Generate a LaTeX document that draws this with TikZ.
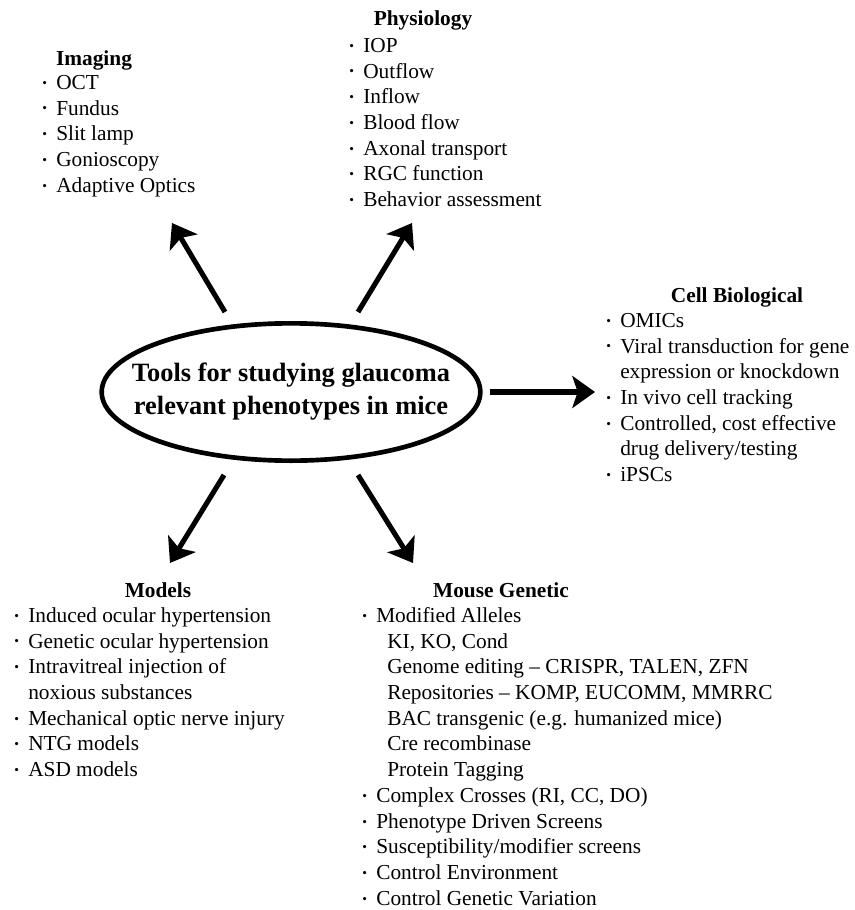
\documentclass[tikz,border=0pt]{standalone}
\usepackage{fontspec}
\setmainfont{Liberation Serif}
\usetikzlibrary{shapes.geometric}
\usetikzlibrary{arrows.meta}

\newcommand{\bul}{\strut\makebox[10.5pt][l]{\raisebox{1.6pt}{\fontsize{10pt}{10pt}\selectfont •}}}
\newcommand{\ind}{\strut\hspace*{10.5pt}}
\newcommand{\subind}{\strut\hspace*{18.75pt}}

\begin{document}
\begin{tikzpicture}[x=0.75pt,y=-0.75pt,line cap=round,line join=round,
  listtxt/.style={anchor=north west,inner sep=0pt,align=left,font=\fontsize{16pt}{19.3pt}\selectfont},
  head/.style={anchor=base,inner sep=0pt,font=\fontsize{16pt}{19.3pt}\selectfont\bfseries},
  arr/.style={line width=3.8pt,line cap=butt,-{Stealth[length=17pt,width=24pt,inset=4pt]}}]
\useasboundingbox (0,0) rectangle (854,910);
% central question
\node[ellipse,draw,line width=3.5pt,minimum width=284pt,minimum height=103pt,inner ysep=0pt,inner xsep=-20pt,align=center,
  font=\fontsize{19.8pt}{24.75pt}\selectfont\bfseries] (hub) at (291,392) {Tools for studying glaucoma\\relevant phenotypes in mice};
% headings
\node[head] (imaging) at (94,65) {Imaging};
\node[head] (physio) at (423,26) {Physiology};
\node[head] (cellbio) at (737,302) {Cell Biological};
\node[head] (models) at (158,597) {Models};
\node[head] (mousegen) at (501,597) {Mouse Genetic};
% lists
\node[listtxt] (imaginglist) at (42,71) {\bul OCT\\\bul Fundus\\\bul Slit lamp\\\bul Gonioscopy\\\bul Adaptive Optics};
\node[listtxt] (physiolist) at (349,34) {\bul IOP\\\bul Outflow\\\bul Inflow\\\bul Blood flow\\\bul Axonal transport\\\bul RGC function\\\bul Behavior assessment};
\node[listtxt] (cellbiolist) at (606,309) {\bul OMICs\\\bul Viral transduction for gene\\\ind expression or knockdown\\\bul In vivo cell tracking\\\bul Controlled, cost effective\\\ind drug delivery/testing\\\bul iPSCs};
\node[listtxt] (modelslist) at (14,604) {\bul Induced ocular hypertension\\\bul Genetic ocular hypertension\\\bul Intravitreal injection of\\\ind noxious substances\\\bul Mechanical optic nerve injury\\\bul NTG models\\\bul ASD models};
\node[listtxt] (mousegenlist) at (362,604) {\bul Modified Alleles\\\subind KI, KO, Cond\\\subind Genome editing -- CRISPR, TALEN, ZFN\\\subind Repositories -- KOMP, EUCOMM, MMRRC\\\subind BAC transgenic (e.g. humanized mice)\\\subind Cre recombinase\\\subind Protein Tagging\\\bul Complex Crosses (RI, CC, DO)\\\bul Phenotype Driven Screens\\\bul Susceptibility/modifier screens\\\bul Control Environment\\\bul Control Genetic Variation};
% arrow ends
\coordinate (imgtail) at (225,312);
\coordinate (imgtip) at (172,223);
\coordinate (phytail) at (358,312);
\coordinate (phytip) at (412,223);
\coordinate (celltail) at (490,392);
\coordinate (celltip) at (595,392);
\coordinate (modtail) at (224,475);
\coordinate (modtip) at (170,563);
\coordinate (gentail) at (358,475);
\coordinate (gentip) at (413,563);
\draw[arr] (imgtail) -- (imgtip);
\draw[arr] (phytail) -- (phytip);
\draw[arr] (celltail) -- (celltip);
\draw[arr] (modtail) -- (modtip);
\draw[arr] (gentail) -- (gentip);
\end{tikzpicture}
\end{document}
